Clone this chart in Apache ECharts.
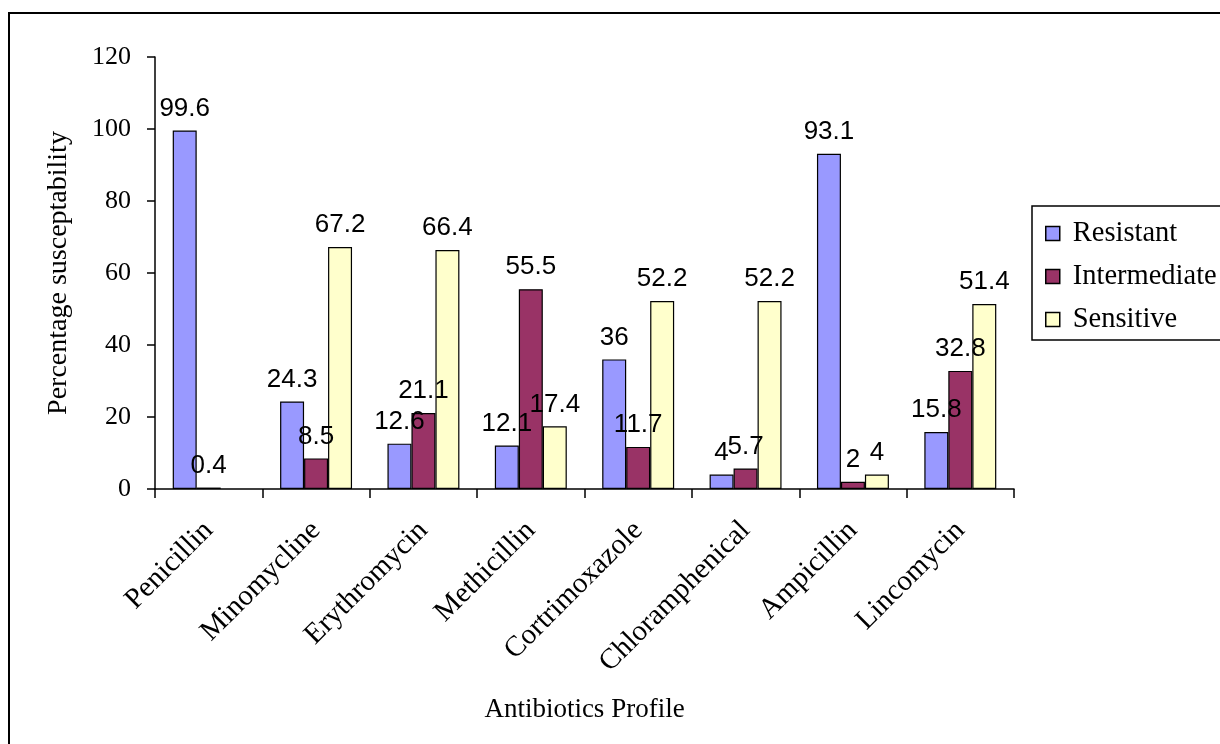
<!DOCTYPE html>
<html>
<head>
<meta charset="utf-8">
<title>Antibiotics Profile</title>
<script src="https://cdn.jsdelivr.net/npm/echarts@6/dist/echarts.min.js"></script>
<style>
  html, body { margin: 0; padding: 0; background: #ffffff; }
  #chart { width: 1220px; height: 744px; }
</style>
</head>
<body>
<div id="chart"></div>
<script>
// Antibiotic susceptibility by drug (percent of isolates)
const categories = ['Penicillin', 'Minomycline', 'Erythromycin', 'Methicillin',
  'Cortrimoxazole', 'Chloramphenical', 'Ampicillin', 'Lincomycin'];
const resistant = [99.6, 24.3, 12.6, 12.1, 36, 4, 93.1, 15.8];
const intermediate = [0.4, 8.5, 21.1, 55.5, 11.7, 5.7, 2, 32.8];
const sensitive = [null, 67.2, 66.4, 17.4, 52.2, 52.2, 4, 51.4];
const seriesNames = ['Resistant', 'Intermediate', 'Sensitive'];
const yTicks = { min: 0, max: 120, interval: 20 };

const serif = '"Liberation Serif", "Times New Roman", serif';
const sans = '"Liberation Sans", Arial, sans-serif';
const colors = ['#9999FF', '#993366', '#FFFFCC'];

function barSeries(name, data, color) {
  return {
    name: name,
    type: 'bar',
    data: data,
    barGap: '0%',
    barCategoryGap: '33%',
    itemStyle: { color: color, borderColor: '#000000', borderWidth: 1.2 },
    label: {
      show: true,
      position: 'top',
      distance: 9,
      color: '#000000',
      fontFamily: sans,
      fontSize: 26
    },
    emphasis: { disabled: true }
  };
}

const chart = echarts.init(document.getElementById('chart'), null, { renderer: 'canvas' });
chart.setOption({
  backgroundColor: '#ffffff',
  animation: false,
  color: colors,
  grid: { left: 155, right: 206, top: 57, bottom: 255 },
  legend: {
    orient: 'vertical',
    left: 1040,
    top: 214,
    icon: 'rect',
    itemWidth: 14,
    itemHeight: 14,
    itemGap: 14,
    itemStyle: { borderColor: '#000000', borderWidth: 1.5 },
    textStyle: {
      fontFamily: serif, fontSize: 28.5, color: '#000000', lineHeight: 28,
      padding: [0, 0, 0, 8]
    },
    data: seriesNames
  },
  xAxis: {
    type: 'category',
    data: categories,
    name: 'Antibiotics Profile',
    nameLocation: 'middle',
    nameGap: 207,
    nameTextStyle: { fontFamily: serif, fontSize: 27, color: '#000000' },
    axisLine: { lineStyle: { color: '#000000', width: 1.5 } },
    axisTick: { show: true, length: 9, lineStyle: { color: '#000000', width: 1.5 } },
    axisLabel: {
      rotate: 45,
      margin: 37,
      fontFamily: serif,
      fontSize: 29,
      color: '#000000'
    }
  },
  yAxis: {
    type: 'value',
    min: yTicks.min,
    max: yTicks.max,
    interval: yTicks.interval,
    name: 'Percentage susceptability',
    nameLocation: 'middle',
    nameGap: 82,
    nameRotate: 90,
    nameTextStyle: { fontFamily: serif, fontSize: 28, color: '#000000' },
    splitLine: { show: false },
    axisLine: { show: true, lineStyle: { color: '#000000', width: 1.5 } },
    axisTick: { show: true, inside: false, length: 8, lineStyle: { color: '#000000', width: 1.5 } },
    axisLabel: { margin: 24, fontFamily: serif, fontSize: 26, color: '#000000' }
  },
  graphic: [
    {
      type: 'rect',
      silent: true,
      shape: { x: 9, y: 13, width: 1400, height: 900 },
      style: { fill: 'none', stroke: '#000000', lineWidth: 2 }
    },
    {
      type: 'rect',
      silent: true,
      shape: { x: 1032, y: 206, width: 400, height: 134 },
      style: { fill: 'none', stroke: '#000000', lineWidth: 1.5 }
    }
  ],
  series: [
    barSeries(seriesNames[0], resistant, colors[0]),
    barSeries(seriesNames[1], intermediate, colors[1]),
    barSeries(seriesNames[2], sensitive, colors[2])
  ]
});
</script>
</body>
</html>
